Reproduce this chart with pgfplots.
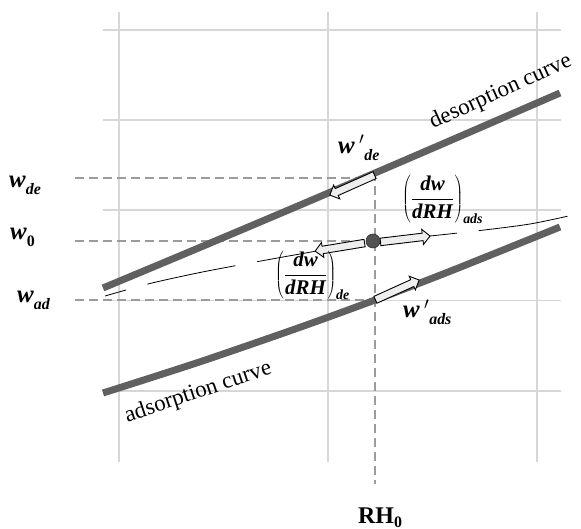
\documentclass[border=0pt]{standalone}
\usepackage{fontspec}
\setmainfont{Liberation Serif}
\usepackage{pgfplots}
\pgfplotsset{compat=1.18}
\usetikzlibrary{shapes.arrows}

\definecolor{curvegray}{RGB}{96,96,96}
\definecolor{gridgray}{RGB}{215,215,215}
\definecolor{dashgray}{RGB}{155,155,155}
\definecolor{arrowfill}{RGB}{238,238,238}
\newcommand{\bi}[1]{\textbf{\textit{#1}}}

\tikzset{blockarrow/.style={single arrow, draw=black, fill=arrowfill, line width=0.9bp,
  inner xsep=0pt, inner ysep=3.3bp, minimum width=0pt, single arrow head extend=3.8bp,
  single arrow tip angle=90}}

\begin{document}
\begin{tikzpicture}
\begin{axis}[
  x=1bp, y=1bp,
  xmin=103, xmax=561, ymin=67, ymax=517,
  axis line style={draw=none},
  tick style={draw=none},
  major tick length=0pt,
  xtick={119,328,537}, ytick={138,228.5,319,409,499},
  xticklabels={}, yticklabels={},
  grid=major,
  x grid style={gridgray, line width=1.8bp},
  y grid style={gridgray, line width=1.3bp},
  clip=false,
]
% guide lines (dashed)
\addplot[dashgray, line width=1.5bp, dash pattern=on 9bp off 5bp] coordinates {(75,351) (375,351)};
\addplot[dashgray, line width=1.5bp, dash pattern=on 9bp off 5bp] coordinates {(75,288) (366,288)};
\addplot[dashgray, line width=1.5bp, dash pattern=on 9bp off 5bp] coordinates {(75,229) (375,229)};
\addplot[dashgray, line width=1.5bp, dash pattern=on 9bp off 5bp] coordinates {(375,357) (375,45)};

% desorption curve
\addplot[curvegray, line width=7bp, smooth] coordinates {(103,241) (200,281.6) (300,323.9) (375,356) (450,388.3) (560,436)};
% adsorption curve
\addplot[curvegray, line width=7bp, smooth] coordinates {(103,136) (200,167.2) (300,201.7) (375,229) (450,257.7) (560,302)};
% scanning curve
\addplot[black, line width=0.8bp, smooth, dash pattern=on 90bp off 22bp, dash phase=68bp]
  coordinates {(105,233) (150,245.5) (200,256.5) (250,266) (300,275) (372,287.5) (430,293) (480,298.5) (530,305) (573,314)};

% block arrows
\node[blockarrow, minimum height=49bp, rotate=204, anchor=tail] at (axis cs:375,354) {};
\node[blockarrow, minimum height=48bp, rotate=24.4, anchor=tail] at (axis cs:375,229) {};
\node[blockarrow, minimum height=50bp, rotate=6.8, anchor=tail] at (axis cs:380,287) {};
\node[blockarrow, minimum height=50bp, rotate=189.3, anchor=tail] at (axis cs:365,286) {};

% current state point
\addplot[only marks, mark=*, mark size=7bp, mark options={fill=curvegray!85!black, draw=black!80, line width=0.6bp}] coordinates {(373,288)};
\node[text=white!85!gray, inner sep=0pt] at (axis cs:373,288) {\fontsize{10}{10}\selectfont\bfseries !};

% w labels
\node[anchor=base west, inner sep=0pt] at (axis cs:9,341) {\fontsize{25}{25}\selectfont\bi{w}\raisebox{-7bp}{\fontsize{16}{16}\selectfont\bi{de}}};
\node[anchor=base west, inner sep=0pt] at (axis cs:10,289) {\fontsize{25}{25}\selectfont\bi{w}\raisebox{-7bp}{\fontsize{16}{16}\selectfont\textbf{0}}};
\node[anchor=base west, inner sep=0pt] at (axis cs:17,226) {\fontsize{25}{25}\selectfont\bi{w}\raisebox{-7bp}{\fontsize{16}{16}\selectfont\bi{ad}}};
\node[anchor=base west, inner sep=0pt] at (axis cs:338,375) {\fontsize{25}{25}\selectfont\bi{w}\,$'$\raisebox{-7bp}{\fontsize{16}{16}\selectfont\bi{de}}};
\node[anchor=base west, inner sep=0pt] at (axis cs:403,211) {\fontsize{25}{25}\selectfont\bi{w}\,$'$\raisebox{-7bp}{\fontsize{16}{16}\selectfont\bi{ads}}};

% derivative labels
\node[anchor=base west, inner sep=0pt] at (axis cs:402,325) {\fontsize{21}{21}\selectfont$\left(\displaystyle\frac{\mbox{\bi{dw}}}{\mbox{\bi{dRH}}}\right)_{\mbox{\fontsize{14}{14}\selectfont\bi{ads}}}$};
\node[anchor=base west, inner sep=0pt] at (axis cs:275,249) {\fontsize{21}{21}\selectfont$\left(\displaystyle\frac{\mbox{\bi{dw}}}{\mbox{\bi{dRH}}}\right)_{\mbox{\fontsize{14}{14}\selectfont\bi{de}}}$};

% curve names
\node[rotate=24.5, anchor=base, inner sep=0pt] at (axis cs:503,432) {\fontsize{23}{23}\selectfont desorption curve};
\node[rotate=18.5, anchor=base, inner sep=0pt] at (axis cs:200,131) {\fontsize{23}{23}\selectfont adsorption curve};

% RH0
\node[anchor=base west, inner sep=0pt] at (axis cs:358,6) {\fontsize{24}{24}\selectfont\bfseries RH\raisebox{-4bp}{\fontsize{16}{16}\selectfont 0}};

\coordinate (BL) at (axis cs:0,0);
\coordinate (TR) at (axis cs:581,529);
\end{axis}
\pgfresetboundingbox
\path[use as bounding box] (BL) rectangle (TR);
\end{tikzpicture}
\end{document}
